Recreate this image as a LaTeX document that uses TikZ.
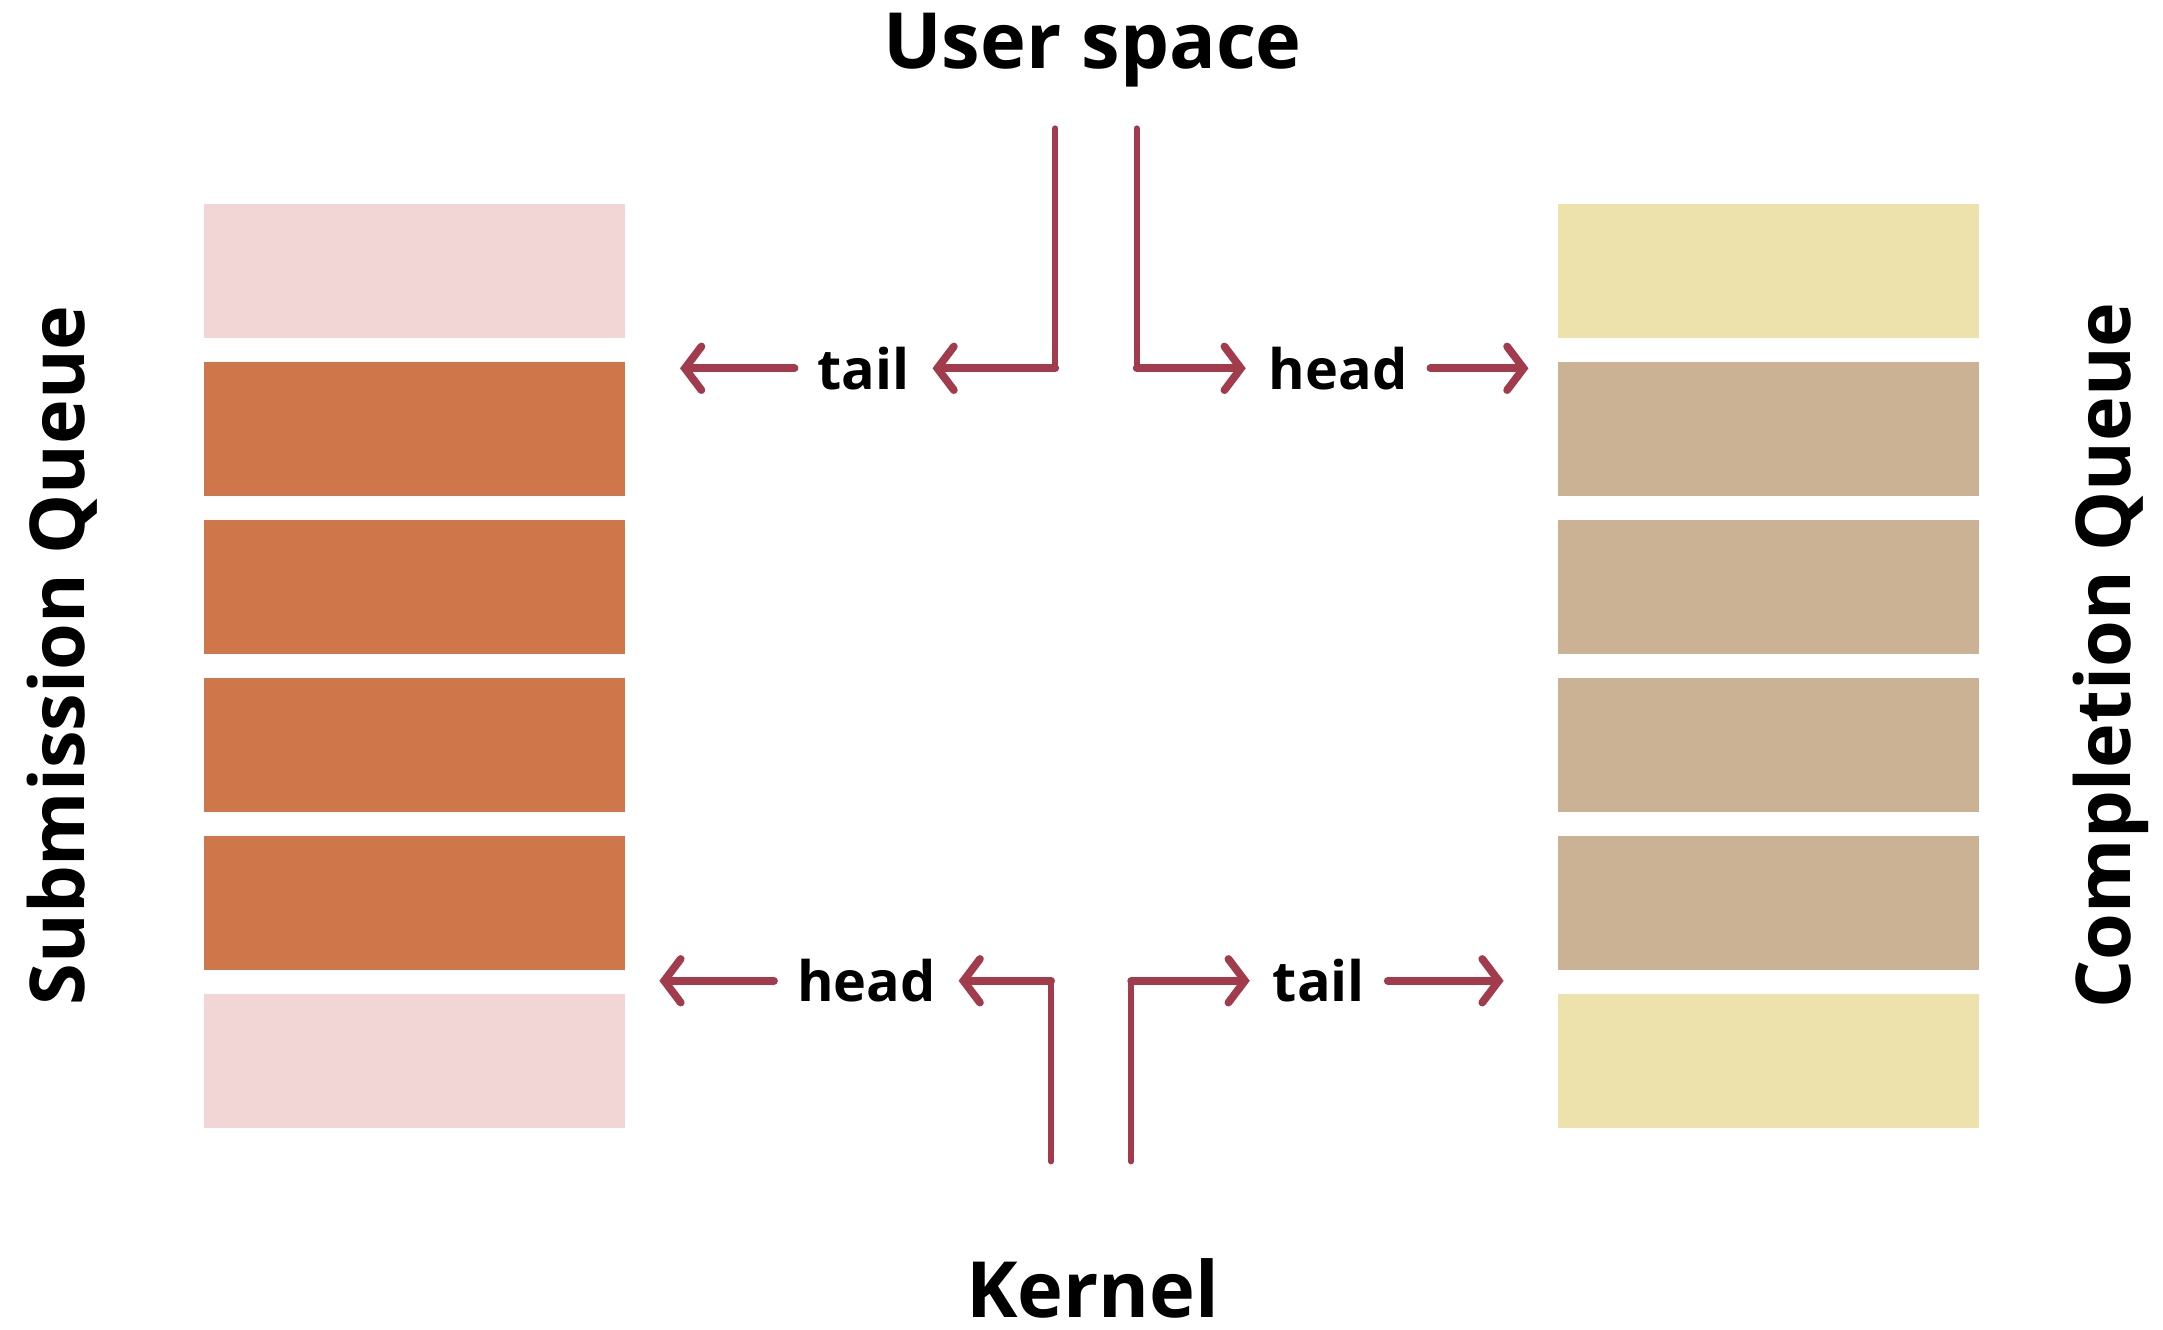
\documentclass[tikz,border=0pt]{standalone}
\usepackage{fontspec}
\setmainfont{Open Sans}
\usetikzlibrary{arrows.meta, positioning}

\definecolor{ptrred}{HTML}{A23C4C}
\definecolor{sqlight}{HTML}{F2D6D6}
\definecolor{sqfull}{HTML}{CF774A}
\definecolor{cqlight}{HTML}{EDE2AB}
\definecolor{cqfull}{HTML}{CBB294}

\tikzset{
  slot/.style={minimum width=30.5mm, minimum height=9.7mm, inner sep=0pt, outer sep=0pt},
  title/.style={font=\fontsize{16}{19}\selectfont\bfseries, inner sep=0pt},
  ringptr/.style={font=\fontsize{11.5}{14}\selectfont\bfseries, inner xsep=1.6mm, inner ysep=0pt},
  stem/.style={draw=ptrred, line width=1.2pt, line cap=round},
  ptr/.style={draw=ptrred, line width=1.6pt, line cap=round,
    -{Straight Barb[length=3.4pt, width=9pt, line cap=round]}}
}

\begin{document}
\begin{tikzpicture}[x=0.1mm, y=-0.1mm]
\useasboundingbox (0,0) rectangle (1568,964);

% the two rings
\node[slot, fill=sqlight] (sq1) at (300.5,196.5) {};
\node[slot, fill=cqlight] (cq1) at (1282,196.5) {};
\foreach \i/\sqc/\cqc in {2/sqfull/cqfull, 3/sqfull/cqfull, 4/sqfull/cqfull, 5/sqfull/cqfull, 6/sqlight/cqlight} {
  \pgfmathtruncatemacro{\j}{\i-1}
  \node[slot, fill=\sqc, below=1.75mm of sq\j] (sq\i) {};
  \node[slot, fill=\cqc, below=1.75mm of cq\j] (cq\i) {};
}

\node[title, rotate=90, font=\fontsize{15.6}{19}\selectfont\bfseries] (sqname) at (45,475) {Submission Queue};
\node[title, rotate=90, font=\fontsize{15.6}{19}\selectfont\bfseries] (cqname) at (1530,475) {Completion Queue};
\node[title] (user) at (792,36) {User space};
\node[title] (kernel) at (792,934) {Kernel};

% pointers
\node[ringptr] (utail) at (626,267) {tail};
\node[ringptr] (uhead) at (970,267) {head};
\node[ringptr] (khead) at (628,711) {head};
\node[ringptr] (ktail) at (956,711) {tail};

\coordinate (us1) at (765,93);
\coordinate (us2) at (824,93);
\coordinate (kn1) at (762,842);
\coordinate (kn2) at (820,842);
\coordinate (sqtail) at (493,267);
\coordinate (cqhead) at (1108,267);
\coordinate (sqhead) at (478,711);
\coordinate (cqtail) at (1090,711);

% user space side
\draw[stem] (us1) -- (us1 |- utail);
\draw[ptr] (us1 |- utail) -- (utail);
\draw[ptr] (utail) -- (sqtail);
\draw[stem] (us2) -- (us2 |- uhead);
\draw[ptr] (us2 |- uhead) -- (uhead);
\draw[ptr] (uhead) -- (cqhead);

% kernel side
\draw[stem] (kn1) -- (kn1 |- khead);
\draw[ptr] (kn1 |- khead) -- (khead);
\draw[ptr] (khead) -- (sqhead);
\draw[stem] (kn2) -- (kn2 |- ktail);
\draw[ptr] (kn2 |- ktail) -- (ktail);
\draw[ptr] (ktail) -- (cqtail);
\end{tikzpicture}
\end{document}
